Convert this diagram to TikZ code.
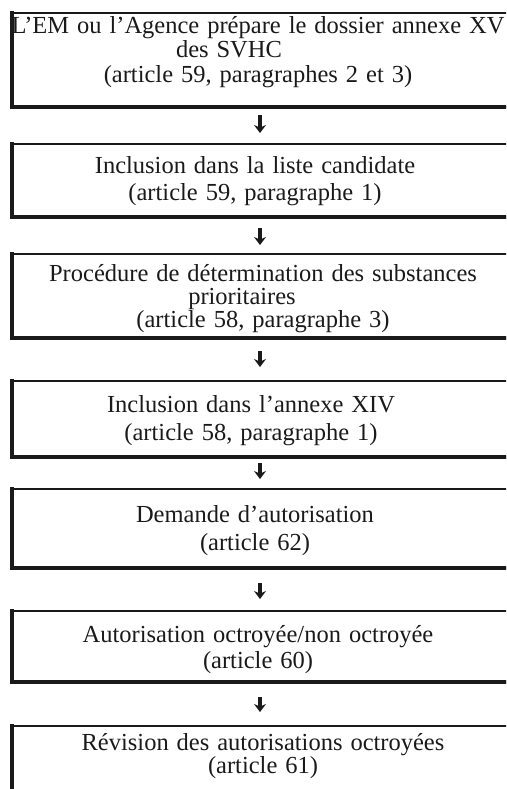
\documentclass[tikz,border=0pt]{standalone}
\usepackage{fontspec}
\setmainfont{Liberation Serif}[WordSpace=1.3]
\usetikzlibrary{arrows.meta}
\definecolor{ink}{HTML}{1A1A1A}
% invisible strut fixing the height of the first line of each label
\newcommand\lnstrut{\rule{0pt}{18pt}}
% shift one line sideways without changing its width
\newcommand\shiftline[2]{\hbox{\kern#1\relax #2\kern-#1\relax}}
\begin{document}
\begin{tikzpicture}[x=1pt,y=-1pt,
  stage/.style={draw=ink, line width=2.4pt, minimum width=496pt,
    inner sep=0pt, outer sep=0pt, anchor=north west},
  heavy/.style={draw=ink, line width=4.5pt, line cap=rect},
  heavyb/.style={draw=ink, line width=3.5pt, line cap=rect},
  label/.style={anchor=north, inner sep=0pt, align=center, text=ink},
  flow/.style={draw=ink, line width=3.2pt,
    -{Stealth[length=8pt,width=12pt]}}]
\useasboundingbox (0,0) rectangle (506,789);
\clip (0,0) rectangle (506,789);

% stage frames
\node[stage, minimum height=94pt] (b1) at (12,13) {};
\node[stage, minimum height=73pt] (b2) at (12,144) {};
\node[stage, minimum height=84pt] (b3) at (12,254) {};
\node[stage, minimum height=76pt] (b4) at (12,381) {};
\node[stage, minimum height=79pt] (b5) at (12,489) {};
\node[stage, minimum height=71pt] (b6) at (12,611) {};
\node[stage, minimum height=90pt] (b7) at (12,726) {};

% heavier left and bottom edges
\foreach \b in {b1,b2,b3,b4,b5,b6,b7}{
  \draw[heavy] (\b.north west) -- (\b.south west);
  \draw[heavyb] (\b.south west) -- (\b.south east);
}

% stage texts
\node[label, font=\fontsize{24.5}{24.5}\selectfont] (t1) at (258,15)
  {\lnstrut L’EM ou l’Agence prépare le dossier annexe XV\\
   \shiftline{-29pt}{des SVHC}\\
   (article 59, paragraphes 2 et 3)};
\node[label, font=\fontsize{24.5}{27}\selectfont] (t2) at (255,155)
  {\lnstrut Inclusion dans la liste candidate\\
   (article 59, paragraphe 1)};
\node[label, font=\fontsize{24.5}{23}\selectfont] (t3) at (263,263)
  {\lnstrut Procédure de détermination des substances\\
   \shiftline{-21pt}{prioritaires}\\
   (article 58, paragraphe 3)};
\node[label, font=\fontsize{24.5}{28}\selectfont] (t4) at (251,394)
  {\lnstrut Inclusion dans l’annexe XIV\\
   (article 58, paragraphe 1)};
\node[label, font=\fontsize{24.5}{28}\selectfont] (t5) at (255,504)
  {\lnstrut Demande d’autorisation\\
   (article 62)};
\node[label, font=\fontsize{24.5}{26}\selectfont] (t6) at (258,624)
  {\lnstrut Autorisation octroyée/non octroyée\\
   (article 60)};
\node[label, font=\fontsize{24.5}{23}\selectfont] (t7) at (263,732)
  {\lnstrut Révision des autorisations octroyées\\
   (article 61)};

% connectors
\draw[flow, shorten <=8pt, shorten >=11pt] (b1.south) -- (b2.north);
\draw[flow, shorten <=11pt, shorten >=9pt] (b2.south) -- (b3.north);
\draw[flow, shorten <=13pt, shorten >=14pt] (b3.south) -- (b4.north);
\draw[flow, shorten <=6pt, shorten >=10pt] (b4.south) -- (b5.north);
\draw[flow, shorten <=15pt, shorten >=12pt] (b5.south) -- (b6.north);
\draw[flow, shorten <=15pt, shorten >=14pt] (b6.south) -- (b7.north);
\end{tikzpicture}
\end{document}
